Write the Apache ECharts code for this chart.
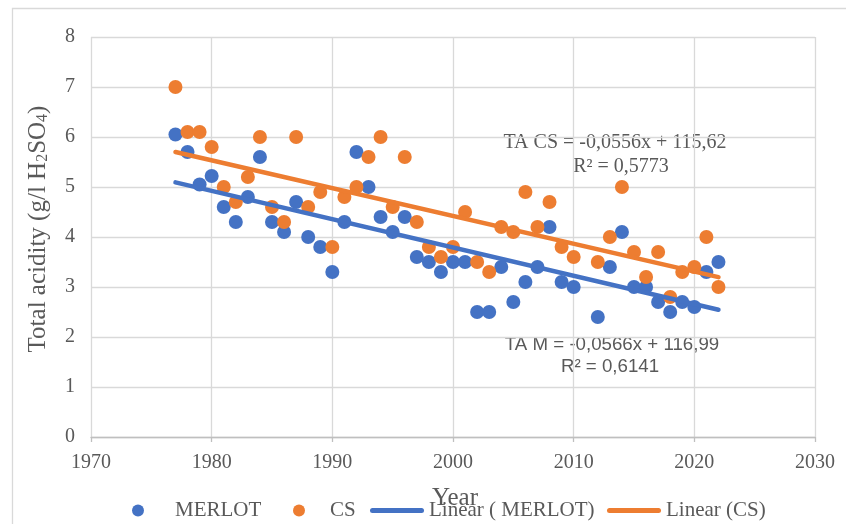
<!DOCTYPE html>
<html>
<head>
<meta charset="utf-8">
<script src="https://cdn.jsdelivr.net/npm/echarts@6/dist/echarts.min.js"></script>
<style>
  html, body { margin: 0; padding: 0; background: #ffffff; }
  #chart { width: 846px; height: 524px; }
</style>
</head>
<body>
<div id="chart"></div>
<script>
// Harvest years (no sample in 2011)
const years = [
  1977, 1978, 1979, 1980, 1981, 1982, 1983, 1984, 1985, 1986,
  1987, 1988, 1989, 1990, 1991, 1992, 1993, 1994, 1995, 1996,
  1997, 1998, 1999, 2000, 2001, 2002, 2003, 2004, 2005, 2006,
  2007, 2008, 2009, 2010,
  2012, 2013, 2014, 2015, 2016, 2017, 2018, 2019, 2020, 2021, 2022
];

// Total acidity, g/l H2SO4
const merlot = [
  6.05, 5.7, 5.05, 5.22, 4.6, 4.3, 4.8, 5.6, 4.3, 4.1,
  4.7, 4.0, 3.8, 3.3, 4.3, 5.7, 5.0, 4.4, 4.1, 4.4,
  3.6, 3.5, 3.3, 3.5, 3.5, 2.5, 2.5, 3.4, 2.7, 3.1,
  3.4, 4.2, 3.1, 3.0,
  2.4, 3.4, 4.1, 3.0, 3.0, 2.7, 2.5, 2.7, 2.6, 3.3, 3.5
];
const cs = [
  7.0, 6.1, 6.1, 5.8, 5.0, 4.7, 5.2, 6.0, 4.6, 4.3,
  6.0, 4.6, 4.9, 3.8, 4.8, 5.0, 5.6, 6.0, 4.6, 5.6,
  4.3, 3.8, 3.6, 3.8, 4.5, 3.5, 3.3, 4.2, 4.1, 4.9,
  4.2, 4.7, 3.8, 3.6,
  3.5, 4.0, 5.0, 3.7, 3.2, 3.7, 2.8, 3.3, 3.4, 4.0, 3.0
];

// Linear trend coefficients [slope, intercept] and R²
const trendMerlot = [-0.0566, 116.99];
const trendCs = [-0.0556, 115.62];
const r2Merlot = 0.6141;
const r2Cs = 0.5773;

// Axis ticks
const xTicks = [1970, 1980, 1990, 2000, 2010, 2020, 2030];
const yTicks = [0, 1, 2, 3, 4, 5, 6, 7, 8];

const BLUE = '#4472C4';
const ORANGE = '#ED7D31';
const TEXT = '#595959';
const SERIF = '"Liberation Serif", "Times New Roman", serif';
const SANS = '"Liberation Sans", Arial, sans-serif';

const pairs = (xs, ys) => xs.map((x, i) => [x, ys[i]]);
const x0 = Math.min.apply(null, years);
const x1 = Math.max.apply(null, years);
const trendLine = (c) => [[x0, c[0] * x0 + c[1]], [x1, c[0] * x1 + c[1]]];
const fmt = (v) => String(v).replace('.', ',');
const eqText = (prefix, c) => prefix + ' = ' + fmt(c[0]) + 'x + ' + fmt(c[1]);

// legend glyph for the trend lines: a rounded bar
const LINE_ICON = 'path://M2.5,0 L51.5,0 A2.5,2.5 0 0 1 51.5,5 L2.5,5 A2.5,2.5 0 0 1 2.5,0 Z';

// one legend block per entry so each sits at its own spot in the bottom row
const legendEntry = (name, icon, left, itemWidth) => ({
  left: left,
  top: 500,
  padding: 0,
  itemWidth: itemWidth,
  itemHeight: 12,
  textStyle: { color: TEXT, fontFamily: SERIF, fontSize: 21 },
  data: [{ name: name, icon: icon }]
});

const chart = echarts.init(document.getElementById('chart'), null, { renderer: 'canvas' });

chart.setOption({
  animation: false,
  backgroundColor: '#ffffff',
  grid: { left: 91, right: 31, top: 37, bottom: 87, containLabel: false },
  xAxis: {
    type: 'value',
    min: xTicks[0],
    max: xTicks[xTicks.length - 1],
    interval: xTicks[1] - xTicks[0],
    axisLine: { show: true, onZero: false, lineStyle: { color: '#bfbfbf', width: 1.3 } },
    axisTick: { show: true, length: 5, inside: false, lineStyle: { color: '#bfbfbf', width: 1.3 } },
    axisLabel: { color: TEXT, fontFamily: SERIF, fontSize: 20, margin: 16, formatter: (v) => String(v) },
    splitLine: { show: true, lineStyle: { color: '#d9d9d9', width: 1.3 } }
  },
  yAxis: {
    type: 'value',
    min: yTicks[0],
    max: yTicks[yTicks.length - 1],
    interval: yTicks[1] - yTicks[0],
    axisLine: { show: false },
    axisTick: { show: false },
    axisLabel: { color: TEXT, fontFamily: SERIF, fontSize: 20, margin: 16 },
    splitLine: { show: true, lineStyle: { color: '#d9d9d9', width: 1.3 } }
  },
  legend: [
    legendEntry('MERLOT', 'circle', 132, 64),
    legendEntry('CS', 'circle', 293, 52),
    legendEntry('Linear ( MERLOT)', LINE_ICON, 370, 54),
    legendEntry('Linear (CS)', LINE_ICON, 607, 54)
  ],
  series: [
    {
      name: 'MERLOT', type: 'scatter', symbol: 'circle', symbolSize: 14,
      itemStyle: { color: BLUE, opacity: 1 },
      data: pairs(years, merlot), z: 2
    },
    {
      name: 'CS', type: 'scatter', symbol: 'circle', symbolSize: 14,
      itemStyle: { color: ORANGE, opacity: 1 },
      data: pairs(years, cs), z: 3
    },
    {
      name: 'Linear ( MERLOT)', type: 'line', symbol: 'none', showSymbol: false,
      lineStyle: { color: BLUE, width: 4.5, cap: 'round' },
      itemStyle: { color: BLUE },
      data: trendLine(trendMerlot), z: 4
    },
    {
      name: 'Linear (CS)', type: 'line', symbol: 'none', showSymbol: false,
      lineStyle: { color: ORANGE, width: 4.5, cap: 'round' },
      itemStyle: { color: ORANGE },
      data: trendLine(trendCs), z: 5
    }
  ],
  graphic: [
    // chart frame
    { type: 'rect', left: 10, top: 6, shape: { x: 0, y: 0, width: 860, height: 540 },
      style: { fill: 'none', stroke: '#d9d9d9', lineWidth: 1.3 }, silent: true },
    // y-axis title with subscripts
    {
      type: 'text', x: 38, y: 229, rotation: Math.PI / 2,
      style: {
        text: 'Total acidity (g/l H{s|2}SO{s|4})',
        fill: TEXT, font: '25px ' + SERIF, align: 'center', verticalAlign: 'middle',
        rich: {
          s: { fontSize: 16, fontFamily: SERIF, fill: TEXT, lineHeight: 12, verticalAlign: 'bottom' }
        }
      }
    },
    // x-axis title
    { type: 'text', x: 455, y: 498,
      style: { text: 'Year', fill: TEXT, font: '25px ' + SERIF, align: 'center', verticalAlign: 'middle' } },
    // trend equations
    { type: 'text', x: 615, y: 143,
      style: { text: eqText('TA CS', trendCs), fill: TEXT, font: '20px ' + SERIF, align: 'center', verticalAlign: 'middle' } },
    { type: 'text', x: 621, y: 167,
      style: { text: 'R² = ' + fmt(r2Cs), fill: TEXT, font: '20px ' + SERIF, align: 'center', verticalAlign: 'middle' } },
    { type: 'text', x: 612, y: 345,
      style: { text: eqText('TA M', trendMerlot), fill: TEXT, font: '18.7px ' + SANS, align: 'center', verticalAlign: 'middle' } },
    { type: 'text', x: 610, y: 367,
      style: { text: 'R² = ' + fmt(r2Merlot), fill: TEXT, font: '18.7px ' + SANS, align: 'center', verticalAlign: 'middle' } }
  ]
});
</script>
</body>
</html>
